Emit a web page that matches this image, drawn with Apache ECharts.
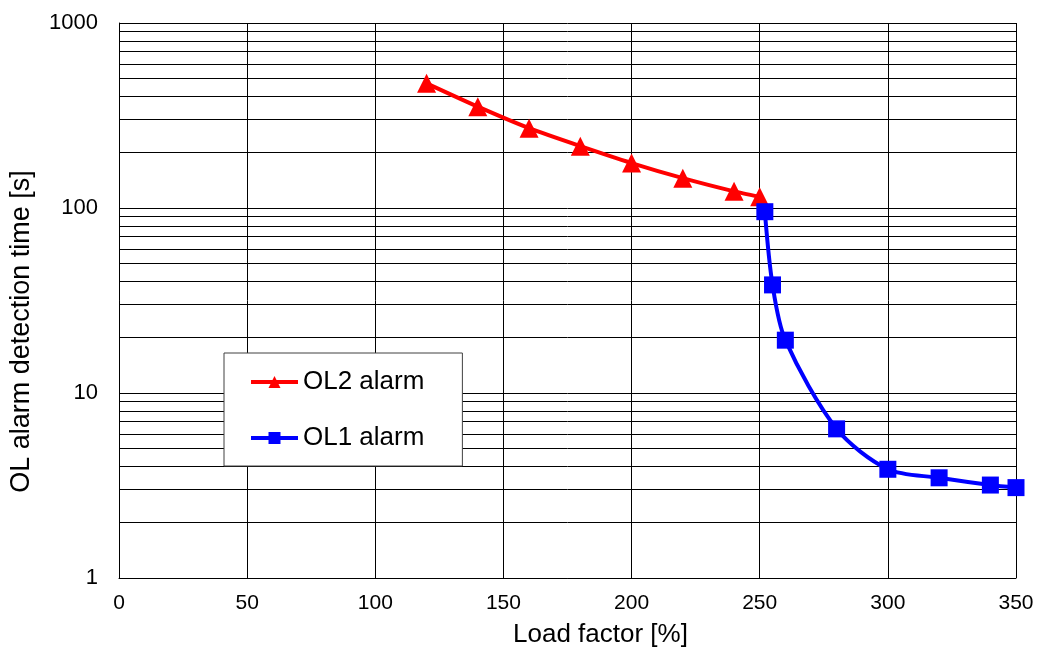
<!DOCTYPE html>
<html>
<head>
<meta charset="utf-8">
<title>OL alarm detection time</title>
<script src="https://cdn.jsdelivr.net/npm/echarts@6/dist/echarts.min.js"></script>
<style>
  html, body { margin: 0; padding: 0; background: #fff; }
  #chart { width: 1038px; height: 653px; }
</style>
</head>
<body>
<div id="chart"></div>
<script>
// Load factor [%] and detection time [s] for each alarm stage
const ol2Load = [120, 140, 160, 180, 200, 220, 240, 250];
const ol2Time = [472, 353, 270, 216, 175, 145, 123, 115];

const ol1Load = [252, 255, 260, 280, 300, 320, 340, 350];
const ol1Time = [95.5, 38.4, 19.3, 6.4, 3.87, 3.48, 3.18, 3.08];

// Intermediate gridlines within each decade of the log axis
const minorGrid = [2, 3, 4, 5, 6, 7, 8, 9, 20, 30, 40, 50, 60, 70, 80, 90,
                   200, 300, 400, 500, 600, 700, 800, 900];

const xTicks = { min: 0, max: 350, interval: 50 };
const yRange = { min: 1, max: 1000 };

const FONT = "'Liberation Sans', Arial, sans-serif";

const pair = (xs, ys) => xs.map((x, i) => [x, ys[i]]);

const chart = echarts.init(document.getElementById('chart'), null, { renderer: 'canvas' });

chart.setOption({
  backgroundColor: '#fff',
  animation: false,
  textStyle: { fontFamily: FONT },
  grid: { left: 118, right: 22, top: 23, bottom: 75, containLabel: false },
  legend: {
    orient: 'vertical',
    left: 224,
    top: 353,
    padding: [14, 38, 13, 25],
    itemGap: 26,
    itemWidth: 47,
    itemHeight: 15,
    backgroundColor: '#fff',
    borderColor: '#404040',
    borderWidth: 1,
    lineStyle: { width: 4 },
    textStyle: { fontFamily: FONT, fontSize: 26, color: '#000', lineHeight: 30 },
    data: ['OL2 alarm', 'OL1 alarm']
  },
  xAxis: {
    type: 'value',
    min: xTicks.min,
    max: xTicks.max,
    interval: xTicks.interval,
    name: 'Load factor [%]',
    nameLocation: 'middle',
    nameGap: 44,
    nameTextStyle: { fontFamily: FONT, fontSize: 26, color: '#000', padding: [0, 0, 0, 66] },
    axisLine: { show: true, lineStyle: { color: '#000', width: 1 } },
    axisTick: { show: false },
    axisLabel: { fontFamily: FONT, fontSize: 21, color: '#000', margin: 15 },
    splitLine: { show: true, lineStyle: { color: '#000', width: 1 } }
  },
  yAxis: {
    type: 'log',
    logBase: 10,
    min: yRange.min,
    max: yRange.max,
    name: 'OL alarm detection time [s]',
    nameLocation: 'middle',
    nameGap: 84,
    nameTextStyle: { fontFamily: FONT, fontSize: 27, color: '#000', padding: [0, 62, 0, 0] },
    axisLine: { show: true, lineStyle: { color: '#000', width: 1 } },
    axisTick: { show: false },
    axisLabel: {
      fontFamily: FONT, fontSize: 22, color: '#000', margin: 21,
      formatter: v => String(Math.round(v))
    },
    splitLine: { show: true, lineStyle: { color: '#000', width: 1 } }
  },
  series: [
    {
      // carries the in-decade gridlines beneath the data lines
      type: 'line',
      data: [],
      z: 1,
      silent: true,
      markLine: {
        silent: true,
        z: 1,
        symbol: ['none', 'none'],
        label: { show: false },
        lineStyle: { color: '#000', width: 1, type: 'solid' },
        emphasis: { disabled: true },
        data: minorGrid.map(v => ({ yAxis: v }))
      }
    },
    {
      name: 'OL2 alarm',
      type: 'line',
      z: 3,
      data: pair(ol2Load, ol2Time),
      smooth: 0.2,
      symbol: 'triangle',
      symbolSize: 19,
      itemStyle: { color: '#ff0000' },
      lineStyle: { color: '#ff0000', width: 4 }
    },
    {
      name: 'OL1 alarm',
      type: 'line',
      z: 4,
      data: pair(ol1Load, ol1Time),
      smooth: 0.3,
      symbol: 'rect',
      symbolSize: 17,
      itemStyle: { color: '#0000ff' },
      lineStyle: { color: '#0000ff', width: 4 }
    }
  ]
});
</script>
</body>
</html>
